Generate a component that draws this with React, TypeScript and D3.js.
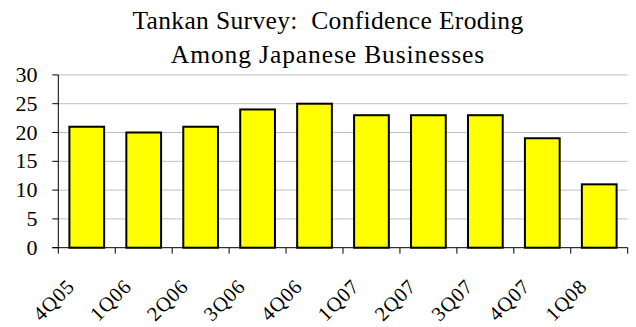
import React from "react";
import * as d3 from "d3";

const categories = ["4Q05", "1Q06", "2Q06", "3Q06", "4Q06", "1Q07", "2Q07", "3Q07", "4Q07", "1Q08"];
const values = [21, 20, 21, 24, 25, 23, 23, 23, 19, 11];
const yTicks = [0, 5, 10, 15, 20, 25, 30];
const titleLines = ["Tankan Survey:  Confidence Eroding", "Among Japanese Businesses"];
const titleSpacing = [0.35, 0.9];

const W = 636, H = 327;
const left = 58.3, right = 627.7, top = 74.9, bottom = 247.7;
const font = "Liberation Serif, Times New Roman, serif";

export default function App() {
  const x = d3.scaleBand<string>().domain(categories).range([left, right]).paddingInner(0.39).paddingOuter(0.195);
  const y = d3.scaleLinear().domain([0, 30]).range([bottom, top]);
  const step = (right - left) / categories.length;
  return (
    <svg width={W} height={H} style={{ position: "absolute", left: 0, top: 0 }} fontFamily={font}>
      <rect width={W} height={H} fill="#fff" />
      {titleLines.map((t, i) => (
        <text key={i} x={328} y={29 + i * 34} textAnchor="middle" fontSize={25.5} letterSpacing={titleSpacing[i]} fill="#000" style={{ whiteSpace: "pre" }}>{t}</text>
      ))}
      {yTicks.filter(t => t > 0).map(t => (
        <line key={t} x1={left} x2={right} y1={y(t)} y2={y(t)} stroke="#c0c0c0" strokeWidth={1} />
      ))}
      {categories.map((c, i) => (
        <rect key={c} x={x(c)} y={y(values[i])} width={x.bandwidth()} height={bottom - y(values[i])}
          fill="#ffff00" stroke="#000" strokeWidth={2} />
      ))}
      <line x1={left} x2={left} y1={top} y2={bottom} stroke="#000" strokeWidth={1} />
      <line x1={left - 6} x2={right} y1={bottom} y2={bottom} stroke="#000" strokeWidth={1} />
      {yTicks.map(t => (
        <g key={t}>
          <line x1={left - 6} x2={left} y1={y(t)} y2={y(t)} stroke="#000" />
          <text x={37.5} y={y(t) + 7} textAnchor="end" fontSize={22}>{t}</text>
        </g>
      ))}
      {d3.range(categories.length + 1).map(i => (
        <line key={i} x1={left + i * step} x2={left + i * step} y1={bottom} y2={bottom + 6} stroke="#000" />
      ))}
      {categories.map(c => {
        const cx = (x(c) as number) + x.bandwidth() / 2;
        return (
          <text key={c} transform={`translate(${cx - 11},${bottom + 40}) rotate(-45)`} textAnchor="end" fontSize={20.5} letterSpacing={0.8}>{c}</text>
        );
      })}
    </svg>
  );
}
